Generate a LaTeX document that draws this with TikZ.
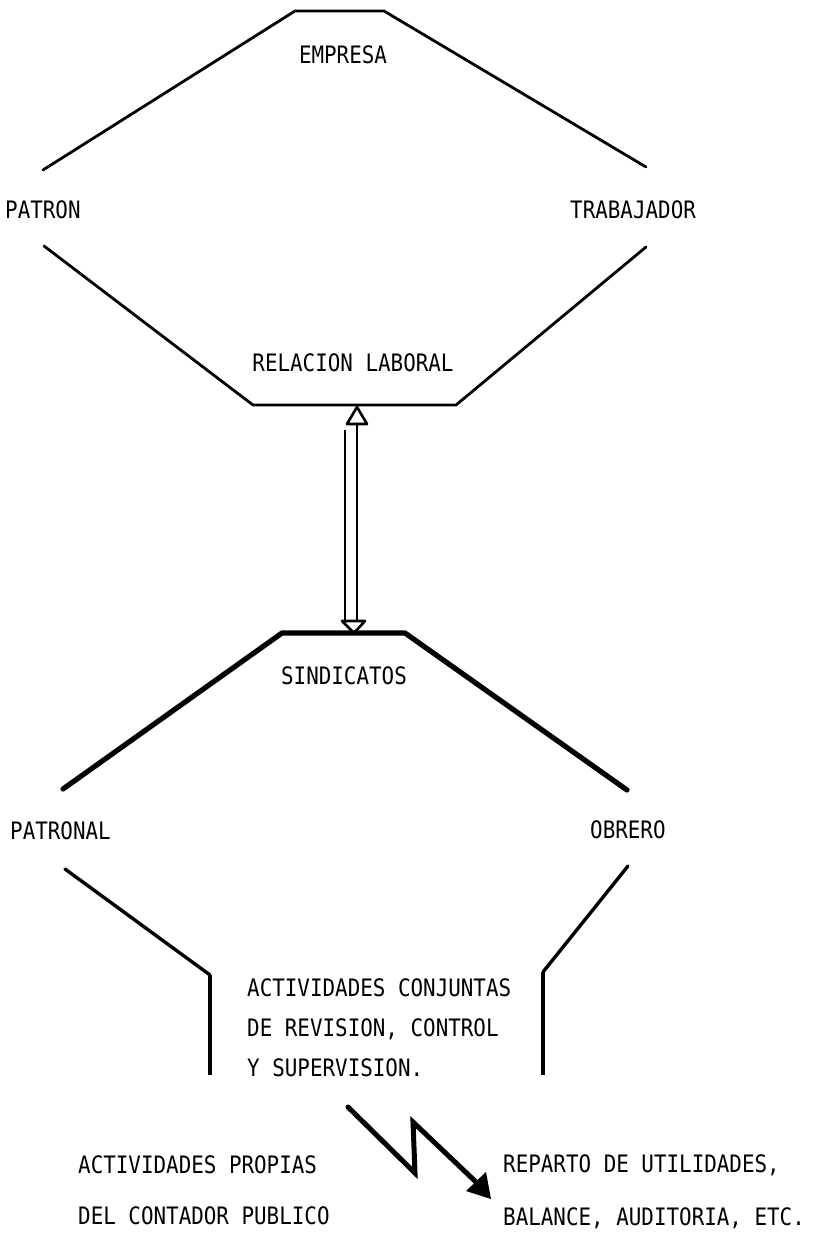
\documentclass[tikz,border=0pt]{standalone}
\usepackage{fontspec}
\newfontfamily\tw[FakeStretch=0.87]{DejaVu Sans Mono}
\begin{document}
\begin{tikzpicture}[x=1pt,y=-1pt,
  lbl/.style={font=\tw\fontsize{24}{28}\selectfont, inner sep=0pt},
  thinln/.style={line width=2.8pt, line join=round, line cap=round},
  thickln/.style={line width=5.2pt, line join=round, line cap=round},
  diagln/.style={line width=3.4pt, line cap=round},
  vertln/.style={line width=4.4pt, line cap=butt},
  arrln/.style={line width=2.8pt},
  openhead/.style={draw, fill=white, line width=2.6pt, line join=round},
  boltln/.style={line width=5pt, line join=miter, line cap=round}]
\useasboundingbox (0,0) rectangle (816,1233);

% upper hexagon
\coordinate (t1) at (43,170);
\coordinate (t2) at (295,11);
\coordinate (t3) at (384,11);
\coordinate (t4) at (646,167);
\coordinate (b1) at (44,246);
\coordinate (b2) at (253,405);
\coordinate (b3) at (456,405);
\coordinate (b4) at (646,247);
\draw[thinln] (t1) -- (t2) -- (t3) -- (t4);
\draw[thinln] (b1) -- (b2) -- (b3) -- (b4);

\node[lbl, anchor=base] (empresa) at (343,64) {EMPRESA};
\node[lbl, anchor=base west] (patron) at (5,219) {PATRON};
\node[lbl, anchor=base west] (trabajador) at (570,219) {TRABAJADOR};
\node[lbl, anchor=base] (relacion) at (353,371) {RELACION LABORAL};

% double arrow
\coordinate (aL1) at (345,430);
\coordinate (aL2) at (345,621);
\coordinate (aR1) at (357,423);
\coordinate (aR2) at (357,621);
\draw[arrln] (aL1) -- (aL2);
\draw[arrln] (aR1) -- (aR2);
\coordinate (uh1) at (347,424);
\coordinate (uh2) at (357,407);
\coordinate (uh3) at (367,424);
\draw[openhead] (uh1) -- (uh2) -- (uh3) -- cycle;
\coordinate (dh1) at (342,621);
\coordinate (dh2) at (354,633);
\coordinate (dh3) at (365,621);
\draw[openhead] (dh1) -- (dh2) -- (dh3) -- cycle;

% sindicatos
\coordinate (s1) at (63,789);
\coordinate (s2) at (282,633);
\coordinate (s3) at (405,633);
\coordinate (s4) at (627,790);
\draw[thickln] (s1) -- (s2) -- (s3) -- (s4);
\node[lbl, anchor=base] (sindicatos) at (344,684) {SINDICATOS};

\node[lbl, anchor=base west] (patronal) at (10,839) {PATRONAL};
\node[lbl, anchor=base west] (obrero) at (590,838) {OBRERO};

% lower funnel
\coordinate (f1) at (65,869);
\coordinate (f2) at (210,975);
\coordinate (f3) at (210,1075);
\coordinate (g1) at (628,866);
\coordinate (g2) at (543,972);
\coordinate (g3) at (543,1075);
\draw[diagln] (f1) -- (f2);
\draw[vertln] (f2) -- (f3);
\draw[diagln] (g1) -- (g2);
\draw[vertln] (g2) -- (g3);

\node[lbl, anchor=base west] (act1) at (247,996) {ACTIVIDADES CONJUNTAS};
\node[lbl, anchor=base west] (act2) at (247,1036) {DE REVISION, CONTROL};
\node[lbl, anchor=base west] (act3) at (247,1076) {Y SUPERVISION.};

% bottom texts
\node[lbl, anchor=base west] (prop1) at (78,1173) {ACTIVIDADES PROPIAS};
\node[lbl, anchor=base west] (prop2) at (78,1224) {DEL CONTADOR PUBLICO};
\node[lbl, anchor=base west] (rep1) at (503,1172) {REPARTO DE UTILIDADES,};
\node[lbl, anchor=base west] (rep2) at (503,1225) {BALANCE, AUDITORIA, ETC.};

% lightning arrow
\coordinate (z1) at (348,1107);
\coordinate (z2) at (415,1173);
\coordinate (z3) at (413,1122);
\coordinate (z4) at (476,1182);
\coordinate (hb1) at (466,1191);
\coordinate (hb2) at (486,1172);
\coordinate (tip) at (491,1199);
\draw[boltln] (z1) -- (z2) -- (z3) -- (z4);
\fill (hb1) -- (tip) -- (hb2) -- cycle;
\end{tikzpicture}
\end{document}
